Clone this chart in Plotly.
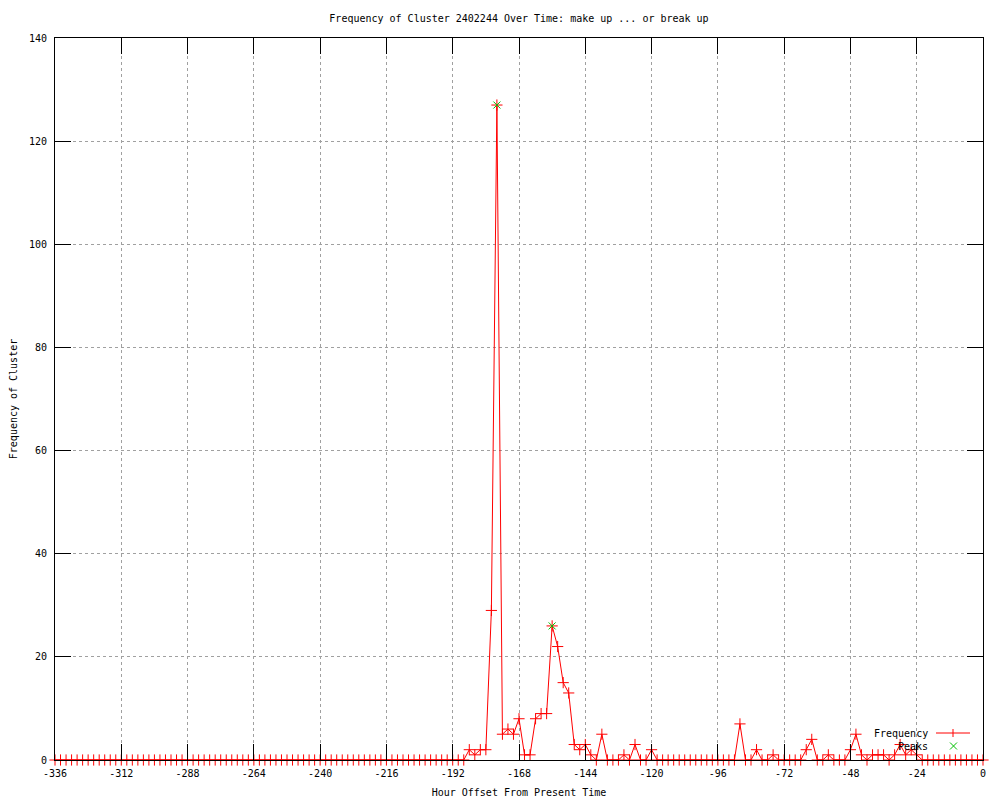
import plotly.graph_objects as go

# Hour offsets (every 2 hours from -336 to 0)
hours = list(range(-336, 1, 2))

# Frequency of cluster per 2-hour bin
frequency = (
    [0] * 74  # -336 .. -190
    + [0, 2, 1, 2, 2, 29, 127, 5, 6, 5,      # -188 .. -170
       8, 1, 1, 8, 9, 9, 26, 22, 15, 13,     # -168 .. -150
       3, 2, 3, 1, 0, 5, 0, 0, 0, 1,         # -148 .. -130
       0, 3, 0, 0, 2, 0]                     # -128 .. -118
    + [0] * 14  # -116 .. -90
    + [7, 0, 0, 2, 0, 0, 1, 0, 0, 0,         # -88 .. -70
       0, 0, 2, 4, 0, 0, 1, 0, 0, 0,         # -68 .. -50
       2, 5, 1, 0, 1, 1, 1, 0, 1, 3,         # -48 .. -30
       1, 2, 1]                              # -28 .. -24
    + [0] * 12  # -22 .. 0
)

peak_hours = [-176, -156]
peak_values = [127, 26]

x_ticks = [-336, -312, -288, -264, -240, -216, -192, -168, -144, -120, -96, -72, -48, -24, 0]
y_ticks = [0, 20, 40, 60, 80, 100, 120, 140]

FONT = "DejaVu Sans Mono"

# The page body has an 8px margin, so the figure is 8px smaller and offset.
OFF = 8
W, H = 1000 - OFF, 800 - OFF

fig = go.Figure()
fig.add_trace(go.Scatter(
    x=hours, y=frequency, mode="lines+markers", name="Frequency",
    line=dict(color="#ff0000", width=1),
    marker=dict(symbol="cross-thin", size=8, line=dict(color="#ff0000", width=1)),
    cliponaxis=False, showlegend=False,
))
fig.add_trace(go.Scatter(
    x=peak_hours, y=peak_values, mode="markers", name="Peaks",
    marker=dict(symbol="x-thin", size=7, color="#00c000", line=dict(color="#00c000", width=1)),
    cliponaxis=False, showlegend=False,
))

# plot area in page pixels: x 55..983, y 38..760
L, R, T, B = 55, 983, 38, 760
def px(x):
    return (x - L) / (R - L)
def py(y):
    return (B - y) / (B - T)

# custom legend (gnuplot style: text then sample)
annotations = [
    dict(text="Frequency", x=px(930), y=py(733), xref="paper", yref="paper",
         xanchor="right", yanchor="middle", showarrow=False, font=dict(family=FONT, size=10, color="black")),
    dict(text="Peaks", x=px(930), y=py(746), xref="paper", yref="paper",
         xanchor="right", yanchor="middle", showarrow=False, font=dict(family=FONT, size=10, color="black")),
]
shapes = [
    dict(type="line", xref="paper", yref="paper", x0=px(936), x1=px(970), y0=py(733), y1=py(733),
         line=dict(color="#ff0000", width=1)),
    dict(type="line", xref="paper", yref="paper", x0=px(953), x1=px(953), y0=py(729), y1=py(737),
         line=dict(color="#ff0000", width=1)),
    dict(type="line", xref="paper", yref="paper", x0=px(950), x1=px(957), y0=py(742.5), y1=py(749.5),
         line=dict(color="#00c000", width=1)),
    dict(type="line", xref="paper", yref="paper", x0=px(950), x1=px(957), y0=py(749.5), y1=py(742.5),
         line=dict(color="#00c000", width=1)),
]

axis_common = dict(
    showline=True, linecolor="black", linewidth=1, mirror="ticks",
    ticks="inside", ticklen=16, tickcolor="black", tickwidth=1,
    showgrid=True, gridcolor="#a0a0a0", griddash="dot", gridwidth=1,
    zeroline=False, automargin=False,
    tickfont=dict(family=FONT, size=10, color="black"),
)

fig.update_layout(
    width=W, height=H,
    margin=dict(l=L - OFF, r=1000 - R, t=T - OFF, b=800 - B),
    paper_bgcolor="white", plot_bgcolor="white",
    font=dict(family=FONT, size=10, color="black"),
    title=dict(text="Frequency of Cluster 2402244 Over Time: make up ... or break up",
               x=0.5, xref="paper", y=1 - (18 - OFF) / H, yref="container",
               xanchor="center", yanchor="middle",
               font=dict(family=FONT, size=10, color="black")),
    xaxis=dict(range=[-336, 0], tickvals=x_ticks, ticktext=[str(v) for v in x_ticks],
               ticklabelstandoff=4,
               title=dict(text="Hour Offset From Present Time", standoff=10,
                          font=dict(family=FONT, size=10, color="black")),
               **axis_common),
    yaxis=dict(range=[0, 140], tickvals=y_ticks, ticktext=[str(v) for v in y_ticks],
               ticklabelstandoff=5,
               title=dict(text="Frequency of Cluster", standoff=10,
                          font=dict(family=FONT, size=10, color="black")),
               **axis_common),
    annotations=annotations, shapes=shapes,
)

fig.write_html("out.html")
